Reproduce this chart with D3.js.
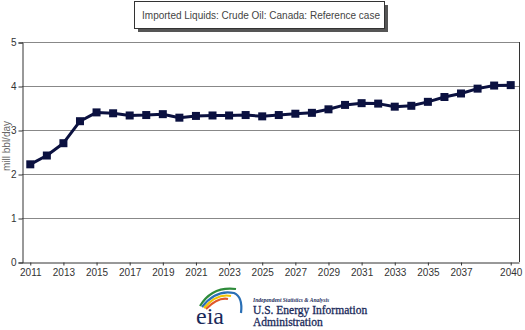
<!DOCTYPE html>
<html><head><meta charset="utf-8">
<script src="https://cdn.jsdelivr.net/npm/d3@7"></script>
<style>html,body{margin:0;padding:0;background:#fff;}svg{display:block;}</style>
</head><body>
<script>
const years = d3.range(2011, 2041);
const values = [2.22,2.42,2.70,3.20,3.40,3.38,3.33,3.34,3.36,3.28,3.32,3.33,3.33,3.34,3.31,
                3.34,3.37,3.39,3.47,3.57,3.61,3.60,3.53,3.55,3.64,3.75,3.83,3.94,4.01,4.02];
const xTickLabels = [2011,2013,2015,2017,2019,2021,2023,2025,2027,2029,2031,2033,2035,2037,2040];
const yTicks = [0,1,2,3,4,5];
const title = "Imported Liquids: Crude Oil: Canada: Reference case";
const yLabel = "mill bbl/day";

const W = 525, H = 330;
const svg = d3.select("body").append("svg").attr("width", W).attr("height", H);
const L = 22, R = 519, T = 42, B = 262;

const x = d3.scalePoint().domain(years).range([L, R]).padding(0.5);
const y = d3.scaleLinear().domain([0, 5]).range([B, T]);

// title box with shadow
svg.append("rect").attr("x", 138).attr("y", 5).attr("width", 250).attr("height", 27).attr("fill", "#555");
svg.append("rect").attr("x", 134.5).attr("y", 1.5).attr("width", 250).attr("height", 27)
  .attr("fill", "#fff").attr("stroke", "#333").attr("stroke-width", 1);
svg.append("text").attr("x", 261).attr("y", 19).attr("text-anchor", "middle")
  .attr("font-family", "Liberation Sans, Arial, sans-serif").attr("font-size", 10).attr("fill", "#444")
  .text(title);

// gridlines
svg.append("g").selectAll("line").data(yTicks.filter(d => d > 0)).join("line")
  .attr("x1", L).attr("x2", R).attr("y1", d => y(d) + 0.5).attr("y2", d => y(d) + 0.5)
  .attr("stroke", "#888").attr("stroke-width", 1);
// right border
svg.append("line").attr("x1", R + 0.5).attr("x2", R + 0.5).attr("y1", T).attr("y2", B)
  .attr("stroke", "#333").attr("stroke-width", 1);

// y axis
const yAxis = svg.append("g").attr("transform", `translate(${L + 0.5},0.5)`)
  .call(d3.axisLeft(y).tickValues(yTicks).tickSize(4).tickPadding(2).tickFormat(d3.format("d")));
yAxis.select(".domain").attr("stroke", "#333");
yAxis.selectAll(".tick line").attr("stroke", "#333");
yAxis.selectAll("text").attr("font-family", "Liberation Sans, Arial, sans-serif").attr("font-size", 10).attr("fill", "#333");

// x axis
const xAxis = svg.append("g").attr("transform", `translate(0,${B + 0.5})`)
  .call(d3.axisBottom(x).tickValues(xTickLabels).tickSize(3).tickPadding(3).tickSizeOuter(0));
xAxis.select(".domain").attr("stroke", "#333");
xAxis.selectAll(".tick line").attr("stroke", "#333");
xAxis.selectAll("text").attr("font-family", "Liberation Sans, Arial, sans-serif").attr("font-size", 10).attr("fill", "#333");

// y label
svg.append("text").attr("transform", "translate(10,146) rotate(-90)").attr("text-anchor", "middle")
  .attr("font-family", "Liberation Sans, Arial, sans-serif").attr("font-size", 10).attr("fill", "#666")
  .text(yLabel);

// line
const data = years.map((yr, i) => ({yr, v: values[i]}));
svg.append("path").datum(data)
  .attr("d", d3.line().x(d => x(d.yr)).y(d => y(d.v)))
  .attr("fill", "none").attr("stroke", "#0b1140").attr("stroke-width", 3).attr("stroke-linejoin", "round");
svg.append("g").selectAll("rect").data(data).join("rect")
  .attr("x", d => x(d.yr) - 4).attr("y", d => y(d.v) - 4).attr("width", 8).attr("height", 8)
  .attr("fill", "#0b1140");

// EIA logo
const logo = svg.append("g");
const arcs = [
  {c: "#2e8b3a", d: "M200,306 Q212,286 236,289"},
  {c: "#2a6fb5", d: "M202,307 Q216,289 234,293 Q243,297 241,313"},
  {c: "#f2c300", d: "M204,308 Q217,293 231,296"},
  {c: "#e0582a", d: "M206,309 Q218,297 228,299"}
];
logo.selectAll("path").data(arcs).join("path").attr("d", d => d.d)
  .attr("fill", "none").attr("stroke", d => d.c).attr("stroke-width", 2.2);
logo.append("text").attr("x", 196).attr("y", 324).attr("font-family", "Liberation Serif, Times New Roman, serif")
  .attr("font-size", 24).attr("fill", "#1a2a5a").text("eia");
logo.append("text").attr("x", 253).attr("y", 302).attr("font-family", "Liberation Serif, serif")
  .attr("font-size", 5.5).attr("font-style", "italic").attr("font-weight", "bold").attr("fill", "#1a2a5a")
  .text("Independent Statistics & Analysis");
logo.append("text").attr("x", 253).attr("y", 314).attr("font-family", "Liberation Serif, serif")
  .attr("font-size", 11.5).attr("fill", "#1a2a5a").attr("stroke", "#1a2a5a").attr("stroke-width", 0.3)
  .text("U.S. Energy Information");
logo.append("text").attr("x", 253).attr("y", 326).attr("font-family", "Liberation Serif, serif")
  .attr("font-size", 11.5).attr("fill", "#1a2a5a").attr("stroke", "#1a2a5a").attr("stroke-width", 0.3)
  .text("Administration");
</script>
</body></html>
